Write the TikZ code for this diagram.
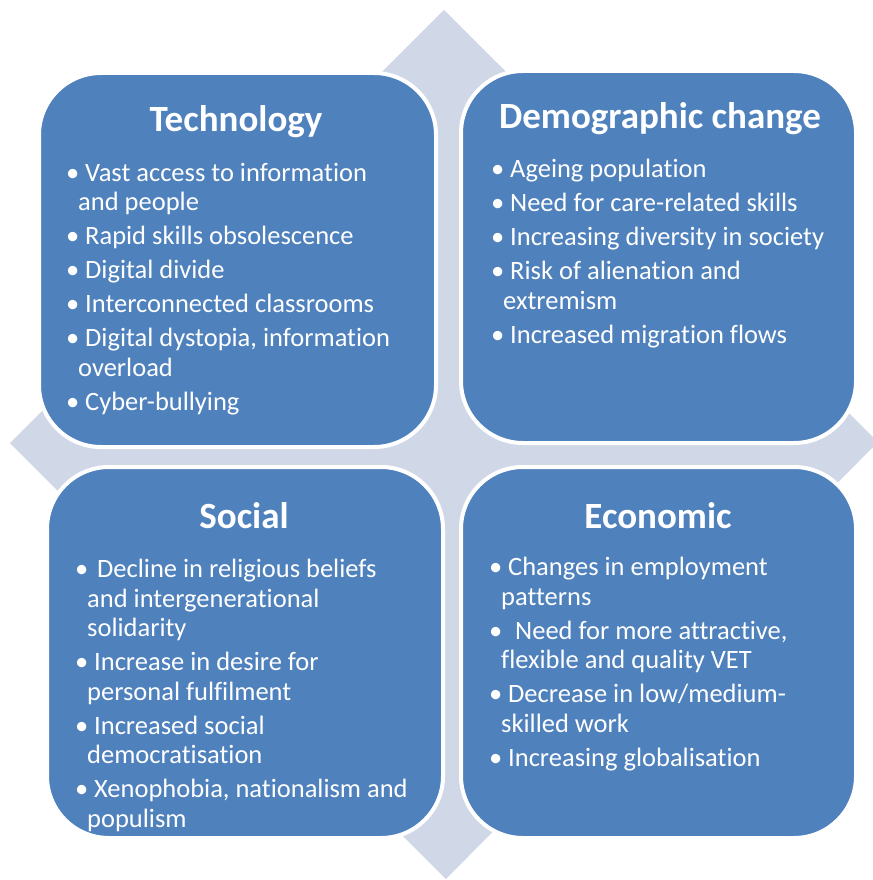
\documentclass[tikz,border=0pt]{standalone}
\usepackage{fontspec}
\setmainfont{Carlito}[Ligatures=NoCommon]
\usetikzlibrary{positioning}

\definecolor{quadblue}{RGB}{79,129,189}
\definecolor{crossgrey}{RGB}{208,216,232}
\newcommand{\bul}{\makebox[19pt][l]{\textbullet}}
\newcommand{\wrp}{\hspace*{12pt}}

\begin{document}
\begin{tikzpicture} [x=1pt, y=-1pt,
		% define styles
		quadstyle/.style={
			% The shape:
			rectangle,
			% Corners
			rounded corners=62pt,
			% The border:
			draw=white,
			line width=4pt,
			% The filling:
			fill=quadblue
		},
		titlestyle/.style={
			% Color
			text=white,
			% Font
			font=\fontsize{37}{40}\selectfont\bfseries
		},
		liststyle/.style={
			anchor=north west,
			inner sep=0pt,
			align=left,
			% Color
			text=white,
			% Font
			font=\fontsize{26.5}{29.5}\selectfont
		}]
		% end of style definition

		\useasboundingbox (0,0) rectangle (872,880);

		% background cross
		\fill [crossgrey] (444,10) -- (878,442) -- (446,879) -- (10,443) -- cycle;

		% draw nodes
		\node (qTech) [quadstyle, minimum width=397pt, minimum height=374pt] at (237.5,260) {};
		\node (qDemo) [quadstyle, minimum width=395pt, minimum height=372pt] at (658.5,257) {};
		\node (qSocial) [quadstyle, minimum width=396pt, minimum height=371pt] at (245,652.5) {};
		\node (qEcon) [quadstyle, minimum width=395pt, minimum height=371pt] at (658.5,652.5) {};

		\node (tTech) [titlestyle] at (236,122) {Technology};
		\node (tDemo) [titlestyle] at (660,119) {Demographic change};
		\node (tSocial) [titlestyle] at (244,516) {Social};
		\node (tEcon) [titlestyle] at (658,516) {Economic};

		\node (lTech) [liststyle] at (66,163) {\bul Vast access to information\\ \wrp and people\\[4.5pt]
			\bul Rapid skills obsolescence\\[4.5pt]
			\bul Digital divide\\[4.5pt]
			\bul Interconnected classrooms\\[4.5pt]
			\bul Digital dystopia, information\\ \wrp overload\\[4.5pt]
			\bul Cyber-bullying};
		\node (lDemo) [liststyle] at (491,159) {\bul Ageing population\\[4.5pt]
			\bul Need for care-related skills\\[4.5pt]
			\bul Increasing diversity in society\\[4.5pt]
			\bul Risk of alienation and\\ \wrp extremism\\[4.5pt]
			\bul Increased migration flows};
		\node (lSocial) [liststyle] at (75,559) {\bul \hspace{3pt}Decline in religious beliefs\\ \wrp and intergenerational\\ \wrp solidarity\\[4.5pt]
			\bul Increase in desire for\\ \wrp personal fulfilment\\[4.5pt]
			\bul Increased social\\ \wrp democratisation\\[4.5pt]
			\bul Xenophobia, nationalism and\\ \wrp populism};
		\node (lEcon) [liststyle] at (489,557) {\bul Changes in employment\\ \wrp patterns\\[4.5pt]
			\bul \hspace{7pt}Need for more attractive,\\ \wrp flexible and quality VET\\[4.5pt]
			\bul Decrease in low/medium-\\ \wrp skilled work\\[4.5pt]
			\bul Increasing globalisation};
	\end{tikzpicture}
\end{document}
